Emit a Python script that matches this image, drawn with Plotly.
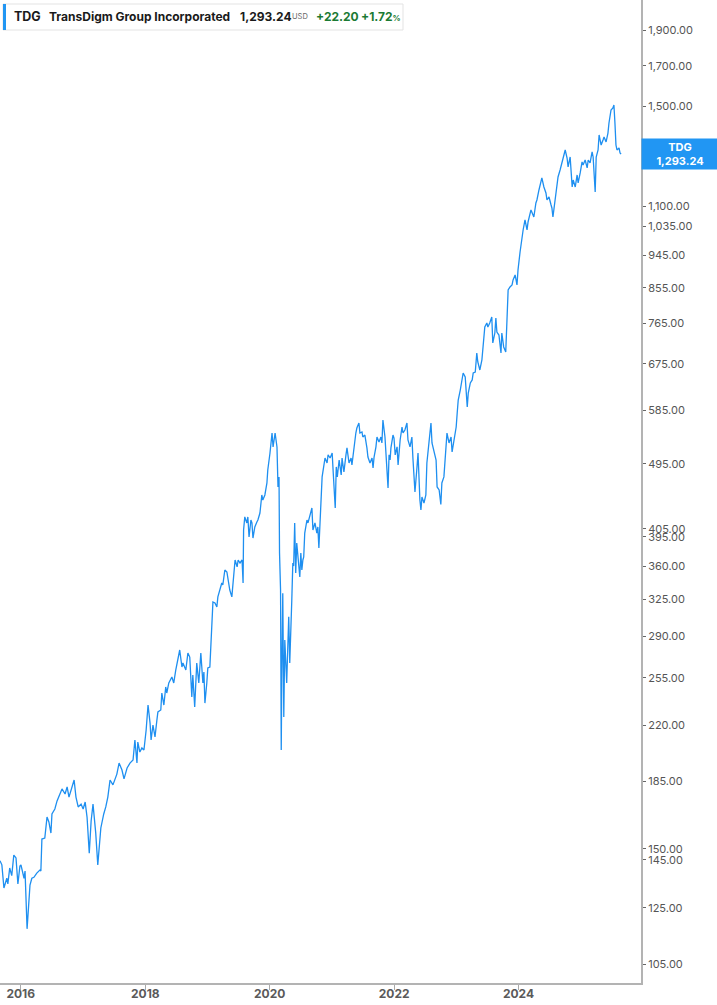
import math
import plotly.graph_objects as go

# ---------------- data ----------------
ticker = "TDG"
company = "TransDigm Group Incorporated"
currency = "USD"
change_abs = 22.20
change_pct = 1.72

dates = [
    "2015-09-01","2015-09-12","2015-09-24","2015-10-11","2015-10-17","2015-10-28","2015-11-09","2015-11-21",
    "2015-12-04","2015-12-15","2015-12-27","2016-01-02","2016-01-20","2016-01-26","2016-02-07","2016-02-18",
    "2016-02-24","2016-03-06","2016-03-18","2016-04-04","2016-04-22","2016-04-28","2016-05-04","2016-05-21",
    "2016-06-03","2016-06-14","2016-06-26","2016-07-02","2016-07-19","2016-08-01","2016-08-18","2016-08-30",
    "2016-09-17","2016-09-29","2016-10-10","2016-10-22","2016-11-03","2016-11-09","2016-11-20","2016-12-03",
    "2016-12-20","2017-01-01","2017-01-13","2017-01-24","2017-02-06","2017-02-17","2017-02-28","2017-03-11",
    "2017-03-16","2017-03-28","2017-04-09","2017-04-15","2017-05-02","2017-05-14","2017-05-26","2017-06-08",
    "2017-06-25","2017-07-18","2017-07-31","2017-08-17","2017-08-29","2017-09-16","2017-10-03","2017-10-21",
    "2017-11-01","2017-11-13","2017-11-18","2017-11-30","2017-12-12","2017-12-24","2018-01-06","2018-01-17",
    "2018-01-29","2018-02-04","2018-02-15","2018-02-27","2018-03-10","2018-03-16","2018-04-02","2018-04-08",
    "2018-04-20","2018-05-01","2018-05-07","2018-05-19","2018-06-06","2018-06-17","2018-06-29","2018-07-11",
    "2018-07-22","2018-08-04","2018-08-10","2018-08-27","2018-09-08","2018-09-19","2018-10-01","2018-10-07",
    "2018-10-18","2018-10-30","2018-11-11","2018-11-23","2018-12-05","2018-12-11","2018-12-17","2018-12-28",
    "2019-01-03","2019-01-15","2019-01-27","2019-02-02","2019-02-14","2019-02-25","2019-03-03","2019-03-14",
    "2019-03-26","2019-04-01","2019-04-13","2019-04-25","2019-05-01","2019-05-12","2019-05-24","2019-06-01",
    "2019-06-12","2019-06-24","2019-06-30","2019-07-11","2019-07-23","2019-07-29","2019-08-01","2019-08-08",
    "2019-08-20","2019-08-26","2019-09-02","2019-09-13","2019-09-19","2019-09-25","2019-10-06","2019-10-18",
    "2019-10-24","2019-11-05","2019-11-16","2019-11-22","2019-12-04","2019-12-16","2019-12-21","2020-01-03",
    "2020-01-15","2020-01-21","2020-02-02","2020-02-13","2020-02-19","2020-02-25","2020-02-28","2020-03-05",
    "2020-03-09","2020-03-12","2020-03-18","2020-03-24","2020-03-30","2020-04-10","2020-04-16","2020-04-22",
    "2020-04-28","2020-05-04","2020-05-10","2020-05-16","2020-05-21","2020-05-27","2020-06-02","2020-06-08",
    "2020-06-20","2020-06-26","2020-07-02","2020-07-08","2020-07-14","2020-07-19","2020-07-25","2020-08-07",
    "2020-08-13","2020-08-24","2020-09-05","2020-09-11","2020-09-23","2020-10-04","2020-10-10","2020-10-16",
    "2020-10-22","2020-10-28","2020-11-04","2020-11-09","2020-11-21","2020-12-03","2020-12-09","2020-12-21",
    "2021-01-02","2021-01-08","2021-01-20","2021-01-26","2021-02-01","2021-02-12","2021-02-24","2021-03-01",
    "2021-03-12","2021-03-24","2021-03-30","2021-04-11","2021-04-23","2021-04-28","2021-05-09","2021-05-21",
    "2021-05-27","2021-06-08","2021-06-14","2021-06-26","2021-07-01","2021-07-13","2021-07-25","2021-07-31",
    "2021-08-12","2021-08-24","2021-08-30","2021-09-05","2021-09-16","2021-09-22","2021-10-04","2021-10-15",
    "2021-10-21","2021-10-27","2021-11-08","2021-11-20","2021-11-26","2021-12-02","2021-12-08","2021-12-13",
    "2021-12-25","2021-12-31","2022-01-07","2022-01-18","2022-01-24","2022-02-05","2022-02-16","2022-02-22",
    "2022-03-05","2022-03-17","2022-03-23","2022-04-04","2022-04-15","2022-04-21","2022-05-03","2022-05-15",
    "2022-05-21","2022-06-01","2022-06-07","2022-06-13","2022-06-25","2022-07-06","2022-07-12","2022-07-24",
    "2022-08-05","2022-08-11","2022-08-23","2022-09-04","2022-09-10","2022-09-22","2022-10-02","2022-10-08",
    "2022-10-20","2022-11-01","2022-11-07","2022-11-19","2022-12-01","2022-12-07","2022-12-19","2022-12-31",
    "2023-01-06","2023-01-12","2023-01-24","2023-02-04","2023-02-10","2023-02-22","2023-03-06","2023-03-12",
    "2023-03-24","2023-04-04","2023-04-10","2023-04-22","2023-05-01","2023-05-07","2023-05-19","2023-05-31",
    "2023-06-06","2023-06-17","2023-06-29","2023-07-05","2023-07-16","2023-07-28","2023-08-03","2023-08-15",
    "2023-08-21","2023-08-27","2023-09-08","2023-09-20","2023-09-25","2023-10-06","2023-10-18","2023-10-24",
    "2023-11-01","2023-11-12","2023-11-24","2023-11-30","2023-12-12","2023-12-23","2023-12-29","2024-01-10",
    "2024-01-22","2024-01-28","2024-02-08","2024-02-20","2024-02-26","2024-03-02","2024-03-14","2024-03-19",
    "2024-03-31","2024-04-12","2024-04-18","2024-04-30","2024-05-11","2024-05-17","2024-05-29","2024-06-10",
    "2024-06-16","2024-06-28","2024-07-10","2024-07-15","2024-07-21","2024-08-03","2024-08-14","2024-08-20",
    "2024-09-01","2024-09-13","2024-09-19","2024-10-01","2024-10-12","2024-10-18","2024-10-30","2024-11-11",
    "2024-11-17","2024-11-29","2024-12-10","2024-12-16","2024-12-28","2025-01-08","2025-01-14","2025-01-26",
    "2025-02-07","2025-02-13","2025-02-24","2025-03-08","2025-03-14","2025-03-26","2025-04-01","2025-04-12",
    "2025-04-18","2025-04-30","2025-05-11","2025-05-17","2025-05-29","2025-06-09","2025-06-15","2025-06-27",
    "2025-07-08","2025-07-14","2025-07-20","2025-07-26","2025-08-01","2025-08-13","2025-08-19","2025-08-25",
]

prices = [
    144.6,142.8,132.9,137.0,134.6,141.4,138.1,147.2,
    145.9,134.6,142.3,142.8,137.0,140.1,117.1,130.0,
    134.1,137.0,137.4,139.2,140.5,140.1,154.7,155.2,
    165.6,163.1,157.6,167.2,169.8,174.1,177.9,180.7,
    177.9,181.8,176.2,180.1,184.6,185.8,176.2,170.9,
    172.4,169.8,173.5,165.6,148.1,163.6,172.4,163.6,
    157.6,142.8,153.7,160.1,167.2,170.9,176.2,185.8,
    183.0,189.2,195.8,191.6,186.4,192.8,195.8,197.7,
    210.3,195.8,209.0,202.6,205.2,203.9,216.9,234.4,
    221.6,210.3,220.3,212.3,223.7,229.4,230.8,243.3,
    234.4,247.9,243.3,251.0,255.7,251.0,261.3,269.5,
    278.0,263.7,267.0,261.3,275.4,272.0,240.4,257.3,
    233.0,267.0,251.0,275.4,251.0,259.7,235.8,251.0,
    262.9,263.7,308.1,322.6,321.6,317.6,327.8,334.8,
    342.2,340.1,356.3,354.1,345.4,334.8,327.8,348.6,
    367.5,359.8,367.5,364.1,367.5,342.2,403.3,420.0,
    412.2,420.0,394.7,416.0,412.2,393.4,407.1,413.5,
    416.0,425.1,449.6,442.6,449.6,466.6,485.8,512.1,
    544.8,521.7,544.8,521.7,460.9,475.5,375.6,334.8,
    203.9,253.3,331.6,225.9,286.8,251.0,280.6,308.1,
    267.0,308.1,324.6,364.1,360.6,412.2,353.0,387.4,
    360.6,348.6,375.6,356.3,367.5,371.0,399.4,416.0,
    412.2,420.0,431.8,403.3,412.2,399.4,407.1,381.4,
    420.0,438.5,475.5,485.8,504.2,496.4,509.1,504.2,
    512.1,482.8,431.8,490.4,475.5,501.1,478.5,504.2,
    482.8,509.1,520.3,496.4,504.2,493.3,520.3,544.8,
    553.3,562.0,544.8,546.5,538.1,541.4,520.3,505.7,
    496.4,504.2,488.8,505.7,521.9,538.1,529.8,538.1,
    528.2,567.2,538.1,482.8,459.5,509.1,501.1,520.3,
    541.4,536.4,509.1,521.9,493.3,533.1,555.0,544.8,
    549.9,562.0,533.1,521.9,538.1,504.2,453.8,490.4,
    512.1,442.6,429.1,446.7,438.5,449.6,496.4,528.2,
    562.0,528.2,513.7,501.1,460.9,456.6,436.5,466.6,
    475.5,516.9,544.8,528.2,538.1,513.7,538.1,555.0,
    579.6,603.5,622.5,642.2,656.2,648.2,590.5,616.7,
    636.2,642.2,656.2,658.3,698.2,679.0,662.4,683.2,
    711.4,756.8,766.3,756.8,766.3,780.8,720.3,742.8,
    778.3,745.1,738.2,698.2,742.8,711.4,700.4,756.8,
    848.8,856.8,862.1,875.6,889.3,862.1,903.1,955.0,
    1006.6,1022.4,1054.6,1022.4,1048.1,1061.1,1087.9,1081.2,
    1064.5,1111.7,1122.1,1157.4,1183.0,1201.4,1168.3,1146.6,
    1122.1,1132.6,1104.8,1094.7,1064.5,1122.1,1157.4,1205.1,
    1231.5,1262.4,1278.1,1310.2,1278.1,1243.0,1282.1,1168.3,
    1193.9,1168.3,1212.6,1183.0,1220.1,1262.4,1250.7,1270.2,
    1239.2,1270.2,1258.5,1302.1,1282.1,1150.2,1282.1,1310.2,
    1372.6,1330.6,1351.5,1364.2,1343.1,1380.9,1424.7,1483.4,
    1492.6,1506.6,1424.7,1330.6,1310.2,1318.4,1298.0,1293.24,
]

y_tick_vals = [105, 125, 145, 150, 185, 220, 255, 290, 325, 360, 395, 405,
               495, 585, 675, 765, 855, 945, 1035, 1100, 1300, 1500, 1700, 1900]
x_tick_vals = ["2016-01-01", "2018-01-01", "2020-01-01", "2022-01-01", "2024-01-01"]
x_tick_text = ["2016", "2018", "2020", "2022", "2024"]

# ---------------- layout constants ----------------
W, H = 717, 1005
PLOT_R = 641          # right edge of plotting area (px)
PLOT_B = 983          # bottom edge of plotting area (px)
LINE_BLUE = "#1e8ff0"
TAG_BLUE = "#2196f3"
GREEN = "#1b7a34"
FONT = "Inter, Roboto, Noto Sans, sans-serif"

last_price = prices[-1]

def px_x(px):
    return px / PLOT_R

def px_y(py):
    return (PLOT_B - py) / PLOT_B

fig = go.Figure()
fig.add_trace(go.Scatter(
    x=dates, y=prices, mode="lines",
    line=dict(color=LINE_BLUE, width=1.3),
    hoverinfo="skip", showlegend=False,
))

fig.update_layout(
    width=W, height=H,
    margin=dict(l=0, r=W - PLOT_R, t=0, b=H - PLOT_B, pad=0, autoexpand=False),
    paper_bgcolor="white", plot_bgcolor="white",
    font=dict(family=FONT, color="#555555"),
    showlegend=False,
    xaxis=dict(
        type="date",
        range=["2015-09-01", "2025-12-20"],
        tickmode="array", tickvals=x_tick_vals, ticktext=x_tick_text,
        ticks="outside", ticklen=5, tickcolor="#aaaaaa", tickwidth=1,
        ticklabelstandoff=-6,
        tickfont=dict(size=12, color="#5a5a5a", family=FONT, weight="bold"),
        showgrid=False, zeroline=False,
        showline=True, linecolor="#b3b3b3", linewidth=2,
    ),
    yaxis=dict(
        type="log", side="right",
        range=[math.log10(99.0), math.log10(2086.0)],
        tickmode="array", tickvals=y_tick_vals,
        ticktext=[f"{v:,.2f}" for v in y_tick_vals],
        ticks="outside", ticklen=3, tickcolor="#666666", tickwidth=1,
        tickfont=dict(size=11, color="#555555", family=FONT),
        showgrid=False, zeroline=False,
        showline=True, linecolor="#b3b3b3", linewidth=2,
    ),
)

# header box
fig.add_shape(type="rect", xref="paper", yref="paper",
              x0=px_x(3), x1=px_x(403), y0=px_y(30), y1=px_y(4),
              line=dict(color="#e3e3e3", width=1), fillcolor="white", layer="above")
fig.add_shape(type="rect", xref="paper", yref="paper",
              x0=px_x(3), x1=px_x(6), y0=px_y(30), y1=px_y(4),
              line=dict(width=0), fillcolor=TAG_BLUE, layer="above")

hy = px_y(17)
def head(px, text, size, color, bold=True):
    fig.add_annotation(xref="paper", yref="paper", x=px_x(px), y=hy,
                       xanchor="left", yanchor="middle", showarrow=False,
                       text=(f"<b>{text}</b>" if bold else text),
                       font=dict(family=FONT, size=size, color=color))

head(12, ticker, 12.5, "#1a1a1a")
head(47, company, 12, "#1a1a1a")
head(238, f"{last_price:,.2f}", 12, "#1a1a1a")
head(290, currency, 7.5, "#666666", bold=False)
head(314, f"+{change_abs:.2f}", 12, GREEN)
head(359, f"+{change_pct:.2f}<span style='font-size:8px'>%</span>", 12, GREEN)

# last price tag on the right axis
fig.add_annotation(xref="paper", yref="y", x=1.0, y=math.log10(last_price),
                   xanchor="left", yanchor="middle", showarrow=False,
                   text=f"<b>{ticker}</b><br><b>{last_price:,.2f}</b>",
                   font=dict(family=FONT, size=11, color="white"),
                   bgcolor=TAG_BLUE, width=W - PLOT_R - 4, height=26, borderpad=2,
                   align="center")

fig.write_html("out.html",
               config={"displayModeBar": False},
               post_script="document.body.style.margin='0px';document.body.style.padding='0px';")
